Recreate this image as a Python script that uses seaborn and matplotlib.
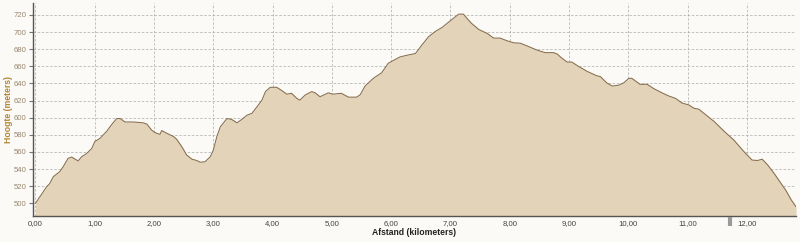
import matplotlib
matplotlib.use("Agg")
import matplotlib.pyplot as plt
import seaborn as sns
import pandas as pd

# ---- data ----
distance_km = [
    0.00, 0.19, 0.24, 0.30, 0.41, 0.47, 0.55, 0.61, 0.72, 0.78, 0.86, 0.95, 1.00,
    1.09, 1.20, 1.28, 1.37, 1.43, 1.51, 1.65, 1.82, 1.88, 1.96, 2.02, 2.10, 2.13,
    2.21, 2.33, 2.38, 2.47, 2.55, 2.64, 2.72, 2.78, 2.86, 2.95, 3.00, 3.06, 3.12,
    3.23, 3.31, 3.40, 3.48, 3.57, 3.65, 3.74, 3.82, 3.88, 3.96, 4.07, 4.16, 4.24,
    4.32, 4.41, 4.46, 4.55, 4.66, 4.72, 4.80, 4.94, 5.02, 5.16, 5.28, 5.42, 5.48,
    5.56, 5.70, 5.84, 5.95, 6.04, 6.15, 6.27, 6.41, 6.52, 6.63, 6.74, 6.86, 6.94,
    7.05, 7.14, 7.22, 7.28, 7.36, 7.48, 7.62, 7.73, 7.84, 7.95, 8.07, 8.18, 8.29,
    8.46, 8.60, 8.74, 8.80, 8.88, 8.97, 9.05, 9.16, 9.31, 9.47, 9.53, 9.64, 9.73,
    9.84, 9.93, 10.01, 10.06, 10.12, 10.20, 10.32, 10.43, 10.57, 10.68, 10.80,
    10.91, 11.02, 11.11, 11.19, 11.28, 11.45, 11.62, 11.78, 11.95, 12.09, 12.18,
    12.26, 12.35, 12.46, 12.58, 12.66, 12.75, 12.83,
]
elevation_m = [
    500, 519.5, 523, 531, 537, 543, 552.5, 554, 549.5, 554.5, 558, 564, 572,
    576, 584, 591.5, 599, 599, 595, 595, 594, 592.5, 585.5, 582.5, 580.5, 585,
    582, 578, 575, 566, 556.5, 551.5, 550, 548, 548.5, 554.5, 562, 578, 589.5,
    599, 598, 594, 598, 603, 605, 613, 620.5, 630.5, 635.5, 635.5, 631.5, 627.5,
    628.5, 622.5, 620.5, 626.5, 630.5, 629, 624.5, 629, 627.5, 628.5, 624, 624, 627,
    637, 646, 652.5, 663.5, 667, 671, 673, 675, 685, 694.5, 700.5, 705.5, 710,
    716, 721, 721, 716, 710, 703, 698.5, 693, 693, 690, 687.5, 687, 684,
    679, 676, 676, 674.5, 669.5, 665, 665, 660, 654, 649, 648, 640.5, 637,
    638, 641, 646, 646, 643, 639, 639, 634, 629, 625.5, 622.5,
    617, 615, 611, 610, 605, 595.5, 584, 574, 560.5, 550.5, 550,
    551.5, 545, 535, 523, 515, 504, 496,
]
x_ticks = [0, 1, 2, 3, 4, 5, 6, 7, 8, 9, 10, 11, 12]
x_tick_labels = ["0,00", "1,00", "2,00", "3,00", "4,00", "5,00", "6,00",
                 "7,00", "8,00", "9,00", "10,00", "11,00", "12,00"]
y_ticks = [500, 520, 540, 560, 580, 600, 620, 640, 660, 680, 700, 720]
marker_km = 11.72

df = pd.DataFrame({"km": distance_km, "m": elevation_m})

sns.set_theme(style="white")
plt.rcParams["font.family"] = ["Liberation Sans", "DejaVu Sans"]

bg = "#FBFAF6"
fig = plt.figure(figsize=(8.0, 2.42), dpi=100, facecolor=bg)
ax = fig.add_axes([32.5 / 800, 1 - 215.7 / 242, (796 - 32.5) / 800, (215.7 - 3) / 242])
ax.set_facecolor(bg)

y_min, y_max = 485.5, 734
ax.fill_between(df["km"], df["m"], y_min, color="#E2D3B9", zorder=2, linewidth=0)
sns.lineplot(data=df, x="km", y="m", ax=ax, color="#856C4C", linewidth=0.75, zorder=3)

ax.set_xlim(-0.05, 12.83)
ax.set_ylim(y_min, y_max)
ax.set_xticks(x_ticks)
ax.set_xticklabels(x_tick_labels)
ax.set_yticks(y_ticks)
ax.set_yticklabels([str(v) for v in y_ticks])

ax.grid(True, which="major", axis="both", color="#A8A8A8", linestyle=(0, (3, 2)),
        linewidth=0.6)
for line in ax.get_xgridlines() + ax.get_ygridlines():
    line.set_zorder(2.5)
    line.set_alpha(0.8)

for side in ["top", "right"]:
    ax.spines[side].set_visible(False)
for side in ["left", "bottom"]:
    ax.spines[side].set_color("#555555")
    ax.spines[side].set_linewidth(1.0)
    ax.spines[side].set_zorder(4)

ax.tick_params(axis="y", which="major", length=3, width=0.8, color="#777777",
               labelsize=5.6, labelcolor="#9A8670", pad=1.5, left=True)
ax.tick_params(axis="x", which="major", length=0, labelsize=5.6,
               labelcolor="#444444", pad=3, bottom=False)

ax.set_xlabel("Afstand (kilometers)", fontsize=6.2, fontweight="bold",
              color="#222222", labelpad=1)
ax.set_ylabel("Hoogte (meters)", fontsize=6.2, fontweight="bold", color="#B08535")
ax.yaxis.set_label_coords((13 - 32.5) / 763.5, 0.5)

# grey position marker under the x-axis
ax.plot([marker_km, marker_km], [-0.005, -0.05], transform=ax.get_xaxis_transform(),
        color="#9A9A9A", linewidth=3, clip_on=False, solid_capstyle="butt", zorder=5)

fig.savefig("out.png", dpi=100, facecolor=bg)
